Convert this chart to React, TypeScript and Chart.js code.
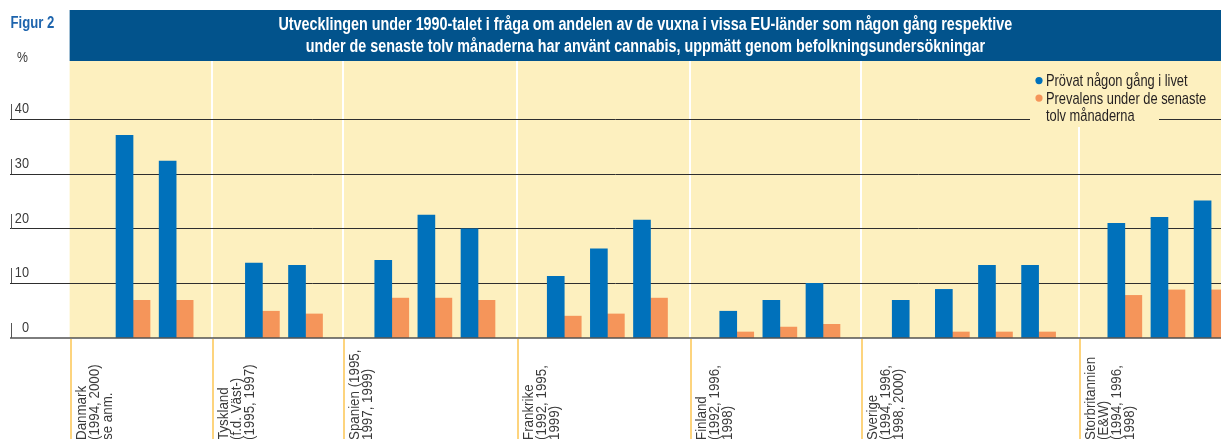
import React, { useEffect, useRef } from 'react';
import { Chart, registerables } from 'chart.js';

Chart.register(...registerables);

// ---------- data ----------
const slotLabels: (string | null)[] = [
  null, 'Danmark 1994', 'Danmark 2000',
  null, 'Tyskland 1995', 'Tyskland 1997',
  null, 'Spanien 1995', 'Spanien 1997', 'Spanien 1999',
  null, 'Frankrike 1992', 'Frankrike 1995', 'Frankrike 1999',
  null, 'Finland 1992', 'Finland 1996', 'Finland 1998',
  null, 'Sverige 1994', 'Sverige 1996', 'Sverige 1998', 'Sverige 2000',
  null, 'Storbritannien 1994', 'Storbritannien 1996', 'Storbritannien 1998',
];
const lifetime: (number | null)[] = [
  null, 37.1, 32.4,
  null, 13.7, 13.3,
  null, 14.2, 22.5, 20.0,
  null, 11.3, 16.3, 21.6,
  null, 4.9, 6.9, 10.0,
  null, 6.9, 8.9, 13.3, 13.3,
  null, 21.0, 22.1, 25.1,
];
const lastYear: (number | null)[] = [
  null, 6.9, 6.9,
  null, 4.9, 4.4,
  null, 7.3, 7.3, 6.9,
  null, 4.0, 4.4, 7.3,
  null, 1.1, 2.0, 2.5,
  null, null, 1.1, 1.1, 1.1,
  null, 7.8, 8.8, 8.8,
];
const countryLabels: string[][] = [
  ['Danmark', '(1994, 2000)', 'se anm.'],
  ['Tyskland', '(f.d. Väst-)', '(1995, 1997)'],
  ['Spanien (1995,', '1997, 1999)'],
  ['Frankrike', '(1992, 1995,', '1999)'],
  ['Finland', '(1992, 1996,', '1998)'],
  ['Sverige', '(1994, 1996,', '1998, 2000)'],
  ['Storbritannien', '(E&W)', '(1994, 1996,', '1998)'],
];
// group boundaries, in slot units on the x scale
const groupEdges = [-0.47, 2.84, 5.88, 9.9, 13.92, 17.88, 22.94];
const yTicks = [0, 10, 20, 30, 40];
const titleLines = [
  'Utvecklingen under 1990-talet i fråga om andelen av de vuxna i vissa EU-länder som någon gång respektive',
  'under de senaste tolv månaderna har använt cannabis, uppmätt genom befolkningsundersökningar',
];
const legendLabels: string[][] = [
  ['Prövat någon gång i livet'],
  ['Prevalens under de senaste', 'tolv månaderna'],
];
const figureLabel = 'Figur 2';
const unitLabel = '%';

// ---------- styles ----------
const FONT = '"Liberation Sans", Arial, sans-serif';
const NARROW = 0.82;
const BLUE = '#0071BB';
const ORANGE = '#F5955A';
const YELLOW = '#FDF0BF';
const BANNER = '#02538C';
const EDGE_ORANGE = '#FDD47E';
const TEXT = '#3a3a3a';
const W = 1221;
const H = 439;

// condensed text: real text drawn with a horizontal squeeze
function narrowText(ctx: CanvasRenderingContext2D, t: string, x: number, y: number, sx: number = NARROW) {
  ctx.save();
  ctx.translate(x, y);
  ctx.scale(sx, 1);
  ctx.fillText(t, 0, 0);
  ctx.restore();
}

const decorPlugin = {
  id: 'decor',
  beforeDraw(chart: any) {
    const { ctx, chartArea, scales } = chart;
    const x = scales.x;
    ctx.save();
    // banner
    const left = x.getPixelForValue(groupEdges[0]);
    ctx.fillStyle = BANNER;
    ctx.fillRect(left, 10, W - left, chartArea.top - 10);
    ctx.fillStyle = '#ffffff';
    ctx.font = `bold 17.5px ${FONT}`;
    ctx.textAlign = 'center';
    ctx.textBaseline = 'alphabetic';
    const cx = (left + W) / 2;
    narrowText(ctx, titleLines[0], cx, 29.5);
    narrowText(ctx, titleLines[1], cx, 52);
    // figure label and unit
    ctx.textAlign = 'left';
    ctx.fillStyle = '#1d64ad';
    ctx.font = `bold 16px ${FONT}`;
    narrowText(ctx, figureLabel, 10.5, 28);
    ctx.fillStyle = TEXT;
    ctx.font = `15px ${FONT}`;
    narrowText(ctx, unitLabel, 17, 62);
    // yellow plot background
    ctx.fillStyle = YELLOW;
    ctx.fillRect(left, chartArea.top, chartArea.right - left, chartArea.bottom - chartArea.top);
    // white separators
    ctx.strokeStyle = '#ffffff';
    ctx.lineWidth = 2;
    groupEdges.slice(1).forEach((v) => {
      const px = Math.round(x.getPixelForValue(v));
      ctx.beginPath();
      ctx.moveTo(px, chartArea.top);
      ctx.lineTo(px, chartArea.bottom);
      ctx.stroke();
    });
    ctx.restore();
  },
  beforeDatasetsDraw(chart: any) {
    const { ctx, chartArea } = chart;
    ctx.save();
    // legend box
    ctx.fillStyle = YELLOW;
    ctx.fillRect(1030, chartArea.top, 129, 66);
    const colors = [BLUE, ORANGE];
    ctx.font = `15.7px ${FONT}`;
    ctx.textAlign = 'left';
    ctx.textBaseline = 'alphabetic';
    let y = 86;
    legendLabels.forEach((lines, i) => {
      ctx.fillStyle = colors[i];
      ctx.beginPath();
      ctx.arc(1039, y - 5.4, 3.6, 0, Math.PI * 2);
      ctx.fill();
      ctx.fillStyle = '#231f20';
      lines.forEach((t) => {
        narrowText(ctx, t, 1046, y);
        y += 17.5;
      });
    });
    ctx.restore();
  },
  afterDatasetsDraw(chart: any) {
    const { ctx, chartArea, scales } = chart;
    const x = scales.x;
    const yS = scales.y;
    ctx.save();
    // zero line over the bars
    const y0 = yS.getPixelForValue(0);
    ctx.strokeStyle = 'rgba(70,70,70,0.7)';
    ctx.lineWidth = 2;
    ctx.beginPath();
    ctx.moveTo(10, y0);
    ctx.lineTo(W, y0);
    ctx.stroke();
    // y labels and tick marks
    ctx.font = `15.5px ${FONT}`;
    ctx.fillStyle = TEXT;
    ctx.textAlign = 'right';
    ctx.textBaseline = 'alphabetic';
    ctx.strokeStyle = '#555';
    ctx.lineWidth = 1;
    yS.ticks.forEach((t: any) => {
      const py = Math.round(yS.getPixelForValue(t.value));
      narrowText(ctx, String(t.value), 29, py - 6);
      ctx.beginPath();
      ctx.moveTo(11.5, py - 15);
      ctx.lineTo(11.5, py);
      ctx.stroke();
    });
    // orange group lines below the axis
    ctx.strokeStyle = EDGE_ORANGE;
    ctx.lineWidth = 2;
    groupEdges.forEach((v) => {
      const px = Math.round(x.getPixelForValue(v)) + 1;
      ctx.beginPath();
      ctx.moveTo(px, chartArea.bottom + 1);
      ctx.lineTo(px, H);
      ctx.stroke();
    });
    // country labels, rotated
    ctx.fillStyle = TEXT;
    ctx.font = `14.5px ${FONT}`;
    ctx.textAlign = 'left';
    ctx.textBaseline = 'top';
    countryLabels.forEach((lines, i) => {
      const px = Math.round(x.getPixelForValue(groupEdges[i])) + 5;
      ctx.save();
      ctx.translate(px, 440);
      ctx.rotate(-Math.PI / 2);
      lines.forEach((t, j) => narrowText(ctx, t, 0, j * 12.8, 0.92));
      ctx.restore();
    });
    ctx.restore();
  },
};

export default function App() {
  const ref = useRef<HTMLCanvasElement | null>(null);
  useEffect(() => {
    if (!ref.current) return;
    const toPoints = (arr: (number | null)[]) =>
      slotLabels
        .map((_, i) => ({ x: i, y: arr[i] }))
        .filter((d) => d.y !== null && d.y !== undefined);
    const chart = new Chart(ref.current, {
      type: 'bar',
      data: {
        datasets: [
          {
            label: legendLabels[0].join(' '),
            data: toPoints(lifetime) as any,
            backgroundColor: BLUE,
            barThickness: 17,
          },
          {
            label: legendLabels[1].join(' '),
            data: toPoints(lastYear) as any,
            backgroundColor: ORANGE,
            barThickness: 17,
          },
        ],
      },
      options: {
        animation: false,
        responsive: false,
        maintainAspectRatio: false,
        layout: { padding: { left: 10, top: 61, right: 0, bottom: 101 } },
        plugins: {
          legend: { display: false },
          title: { display: false },
          tooltip: { enabled: false },
        },
        scales: {
          x: {
            type: 'linear',
            min: -1.853,
            max: 26.23,
            display: false,
            offset: false,
          },
          y: {
            min: 0,
            max: 50.7,
            display: true,
            border: { display: false },
            ticks: { display: false },
            grid: {
              drawTicks: false,
              lineWidth: 1,
              color: (c: any) => (c.tick && c.tick.value === 0 ? 'rgba(0,0,0,0)' : '#2e2e2e'),
            },
            afterBuildTicks: (s: any) => {
              s.ticks = yTicks.map((v) => ({ value: v }));
            },
          },
        },
      },
      plugins: [decorPlugin],
    });
    return () => chart.destroy();
  }, []);
  return (
    <div style={{ position: 'absolute', left: 0, top: 0, width: W, height: H, background: '#fff' }}>
      <canvas ref={ref} width={W} height={H} style={{ display: 'block', width: W, height: H }} />
    </div>
  );
}
